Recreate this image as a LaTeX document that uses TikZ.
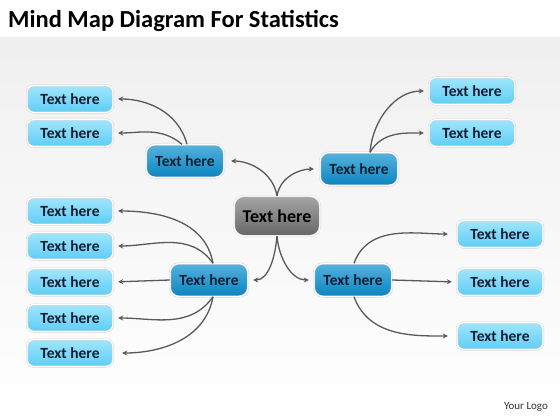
\documentclass[tikz,border=0pt]{standalone}
\usepackage{fontspec}
\setmainfont{Carlito}
\usetikzlibrary{arrows.meta}

\definecolor{leaftop}{RGB}{160,230,252}
\definecolor{leafbot}{RGB}{95,205,245}
\definecolor{branchtop}{RGB}{85,178,222}
\definecolor{branchbot}{RGB}{12,132,192}
\definecolor{inktext}{RGB}{15,30,50}

\tikzset{
  leaf/.style={rounded corners=7pt, minimum width=86pt, minimum height=27pt,
    top color=leaftop, bottom color=leafbot,
    draw=black!18, double=white, double distance=1.2pt,
    font=\bfseries\fontsize{15.5}{17}\selectfont, text=inktext},
  branch/.style={rounded corners=9pt, minimum width=78pt, minimum height=33pt,
    top color=branchtop, bottom color=branchbot,
    draw=black!18, double=white, double distance=1.2pt,
    font=\bfseries\fontsize{15.5}{17}\selectfont, text=inktext},
  hub/.style={rounded corners=10pt, minimum width=86pt, minimum height=40pt,
    top color=black!35, bottom color=black!60,
    draw=black!18, double=white, double distance=1.2pt,
    font=\bfseries\fontsize{18}{20}\selectfont, text=black},
  link/.style={draw=black!65, line width=1.3pt, -{Stealth[length=5pt,width=5pt]}},
}

\begin{document}
\begin{tikzpicture}[x=1pt,y=-1pt]
    \useasboundingbox (0,0) rectangle (560,420);
    \fill[white] (0,0) rectangle (560,40);
    \shade[top color=black!6, bottom color=white] (0,38) rectangle (560,420);
    \node[anchor=base west, inner sep=0pt, font=\bfseries\fontsize{24.5}{27}\selectfont] (title) at (8,28) {Mind Map Diagram For Statistics};
    \node[font=\fontsize{11}{13}\selectfont, text=black!80] (logo) at (526,407) {Your Logo};

    \node[hub] (c) at (277,216) {Text here};
    \node[branch] (tl) at (185,161) {Text here};
    \node[branch] (tr) at (359,169) {Text here};
    \node[branch] (bl) at (209,280) {Text here};
    \node[branch] (br) at (353,280) {Text here};

    \node[leaf] (l1) at (70,99) {Text here};
    \node[leaf] (l2) at (70,133) {Text here};
    \node[leaf] (l3) at (70,211) {Text here};
    \node[leaf] (l4) at (70,246) {Text here};
    \node[leaf] (l5) at (70,282) {Text here};
    \node[leaf] (l6) at (70,318) {Text here};
    \node[leaf] (l7) at (70,353) {Text here};
    \node[leaf] (r1) at (472,91) {Text here};
    \node[leaf] (r2) at (472,133) {Text here};
    \node[leaf] (r3) at (500,234) {Text here};
    \node[leaf] (r4) at (500,282) {Text here};
    \node[leaf] (r5) at (500,336) {Text here};

    \draw[link, shorten >=7pt] (c.north) to[out=100,in=0] (tl.east);
    \draw[link, shorten >=6pt] (c.north) to[out=80,in=180] (tr.west);
    \draw[link, shorten >=5pt] (c.south) to[out=-95,in=0] (bl.east);
    \draw[link, shorten >=5pt] (c.south) to[out=-85,in=180] (br.west);

    \draw[link, shorten >=5pt] ([xshift=2pt]tl.north) to[out=105,in=0] (l1.east);
    \draw[link, shorten >=5pt] ([xshift=-3pt]tl.north) to[out=140,in=0] (l2.east);
    \draw[link, shorten >=5pt] ([xshift=11pt]tr.north) to[out=85,in=180] (r1.west);
    \draw[link, shorten >=5pt] ([xshift=11pt]tr.north) to[out=60,in=180] (r2.west);

    \draw[link, shorten >=5pt] ([xshift=4pt]bl.north) to[out=100,in=0] (l3.east);
    \draw[link, shorten >=5pt] ([xshift=4pt]bl.north) to[out=125,in=0] (l4.east);
    \draw[link, shorten >=5pt] (bl.west) -- (l5.east);
    \draw[link, shorten >=5pt] ([xshift=4pt]bl.south) to[out=-125,in=0] (l6.east);
    \draw[link, shorten >=9pt] ([xshift=4pt]bl.south) to[out=-100,in=0] (l7.east);

    \draw[link, shorten >=9pt] ([xshift=1pt]br.north) to[out=70,in=180] (r3.west);
    \draw[link, shorten >=5pt] (br.east) -- (r4.west);
    \draw[link, shorten >=9pt] ([xshift=1pt]br.south) to[out=-70,in=180] (r5.west);
\end{tikzpicture}
\end{document}
